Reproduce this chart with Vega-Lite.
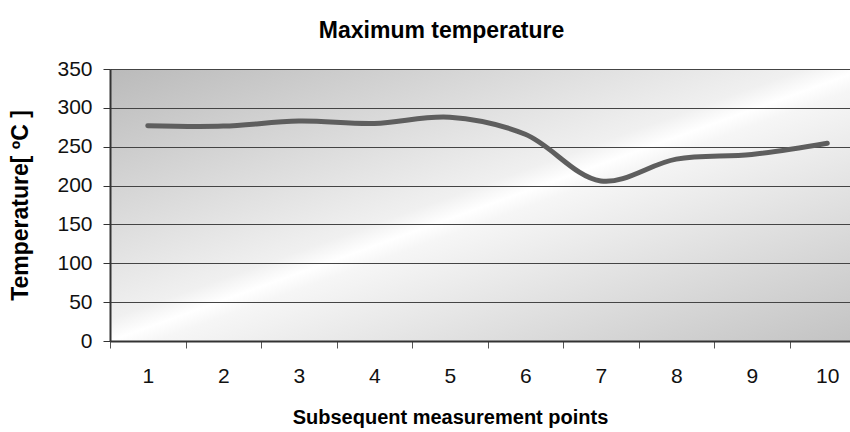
{
  "$schema": "https://vega.github.io/schema/vega-lite/v6.json",
  "autosize": "none",
  "width": 755,
  "height": 272,
  "padding": {"left": 110, "top": 69, "right": 0, "bottom": 91},
  "background": "white",
  "title": {
    "text": "Maximum temperature",
    "font": "Liberation Sans",
    "fontSize": 23,
    "fontWeight": "bold",
    "color": "#000",
    "anchor": "middle",
    "dx": -46,
    "offset": 15
  },
  "data": {
    "values": [
      {"point": "1", "temp": 277},
      {"point": "2", "temp": 276.5},
      {"point": "3", "temp": 283},
      {"point": "4", "temp": 280},
      {"point": "5", "temp": 288},
      {"point": "6", "temp": 266},
      {"point": "7", "temp": 206},
      {"point": "8", "temp": 234},
      {"point": "9", "temp": 240},
      {"point": "10", "temp": 254.5}
    ]
  },
  "mark": {
    "type": "line",
    "interpolate": "catmull-rom",
    "color": "#5e5e5e",
    "strokeWidth": 5,
    "strokeCap": "round",
    "strokeJoin": "round"
  },
  "encoding": {
    "x": {
      "field": "point",
      "type": "ordinal",
      "sort": null,
      "scale": {"paddingInner": 0, "paddingOuter": 0},
      "axis": {
        "title": "Subsequent measurement points",
        "titleFont": "Liberation Sans",
        "titleFontSize": 20,
        "titleFontWeight": "bold",
        "titleColor": "#000",
        "titleX": 340,
        "titleY": 66,
        "titleAnchor": "middle",
        "labelAngle": 0,
        "labelFont": "Liberation Sans",
        "labelFontSize": 21,
        "labelColor": "#111",
        "labelPadding": 17,
        "tickBand": "extent",
        "tickSize": 7,
        "tickColor": "#555",
        "tickWidth": 1,
        "domainColor": "#333",
        "domainWidth": 2,
        "grid": false
      }
    },
    "y": {
      "field": "temp",
      "type": "quantitative",
      "scale": {"domain": [0, 350], "nice": false},
      "axis": {
        "title": "Temperature[ ºC ]",
        "titleFont": "Liberation Sans",
        "titleFontSize": 23,
        "titleFontWeight": "bold",
        "titleColor": "#000",
        "titleX": -78,
        "titleAnchor": "middle",
        "values": [0, 50, 100, 150, 200, 250, 300, 350],
        "labelFont": "Liberation Sans",
        "labelFontSize": 21,
        "labelColor": "#111",
        "labelPadding": 11,
        "tickSize": 7,
        "tickColor": "#333",
        "domainColor": "#333",
        "domainWidth": 2,
        "grid": true,
        "gridColor": "#444",
        "gridWidth": 1.2
      }
    }
  },
  "config": {
    "view": {
      "stroke": null,
      "fill": {
        "gradient": "linear",
        "x1": 0, "y1": 0, "x2": 1, "y2": 1,
        "stops": [
          {"offset": 0, "color": "#bababa"},
          {"offset": 0.46, "color": "#f0f0f0"},
          {"offset": 0.5, "color": "#ffffff"},
          {"offset": 0.53, "color": "#f6f6f6"},
          {"offset": 1, "color": "#c2c2c2"}
        ]
      }
    }
  }
}
